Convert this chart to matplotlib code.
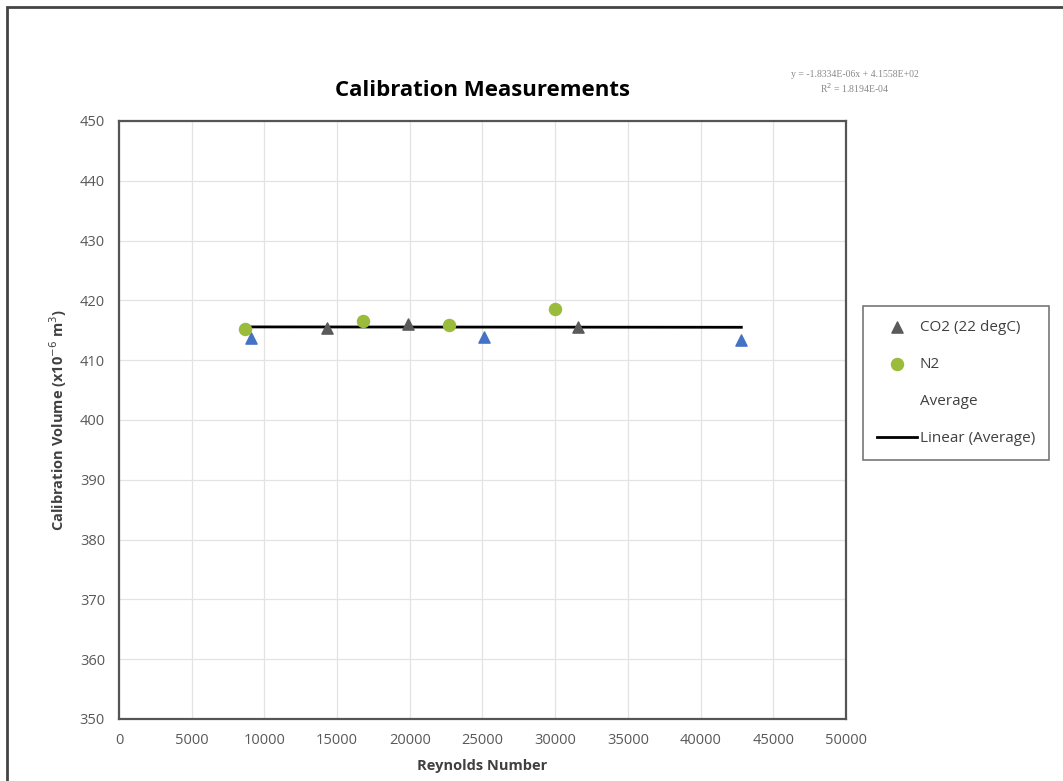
import numpy as np
import matplotlib.pyplot as plt
from matplotlib.patches import Rectangle

plt.rcParams['font.family'] = ['Open Sans', 'DejaVu Sans']

# CO2 (22 degC) points shown in the legend (grey triangles)
co2_x = [14300, 19900, 31600]
co2_y = [415.4, 416.1, 415.6]

# other CO2 runs (blue triangles, not in legend)
co2b_x = [9100, 25100, 42800]
co2b_y = [413.7, 413.8, 413.4]

# N2 points (green circles)
n2_x = [8700, 16800, 22700, 30000]
n2_y = [415.2, 416.5, 415.8, 418.5]

# Average series and its linear trendline
avg_x = [8700, 42800]
trend_slope = -1.8334e-06
trend_icept = 415.58

fig = plt.figure(figsize=(10.63, 7.81), dpi=100)
ax = fig.add_axes([0.1119, 0.0794, 0.684, 0.7657])

ax.set_xlim(0, 50000)
ax.set_ylim(350, 450)
ax.set_xticks(np.arange(0, 50001, 5000))
ax.set_yticks(np.arange(350, 451, 10))
ax.grid(True, color='#e3e3e3', linewidth=0.9)
ax.set_axisbelow(True)
for s in ax.spines.values():
    s.set_color('#555555')
    s.set_linewidth(1.6)
ax.tick_params(length=0, labelsize=10.5, colors='#595959', pad=10)

xs = np.array(avg_x, dtype=float)
ax.plot(xs, trend_slope * xs + trend_icept, color='black', lw=2, zorder=2)

ax.scatter(co2b_x, co2b_y, marker='^', s=65, color='#4472c4', zorder=3)
ax.scatter(co2_x, co2_y, marker='^', s=65, color='#5a5a5a', zorder=3,
           label='CO2 (22 degC)')
ax.scatter(n2_x, n2_y, marker='o', s=75, color='#9bbb3b', zorder=3, label='N2')
ax.plot([], [], linestyle='none', label='Average')
ax.plot([], [], color='black', lw=2, label='Linear (Average)')

ax.set_title('Calibration Measurements', fontsize=16, fontweight='bold', pad=18)
ax.set_xlabel('Reynolds Number', fontsize=10.5, fontweight='bold',
              color='#404040', labelpad=8)
ax.set_ylabel('Calibration Volume (x10$^{-6}$ m$^3$)', fontsize=10.5,
              fontweight='bold', color='#404040', labelpad=8)

leg = ax.legend(loc='center left', bbox_to_anchor=(1.0234, 0.562),
                borderaxespad=0, fontsize=11, frameon=True, fancybox=False,
                edgecolor='#555555', handlelength=2.6, labelspacing=1.45,
                borderpad=0.9, handletextpad=0.2)
leg.get_frame().set_linewidth(1.2)
for t in leg.get_texts():
    t.set_color('#404040')

fig.text(0.804, 0.904, 'y = -1.8334E-06x + 4.1558E+02', fontsize=7,
         family='Liberation Serif', color='#888888', ha='center', va='center')
fig.text(0.804, 0.887, 'R$^2$ = 1.8194E-04', fontsize=7,
         family='Liberation Serif', color='#888888', ha='center', va='center')

fig.patches.append(Rectangle((7 / 1063, -0.05), 1.2, 1 - 7 / 781 + 0.05,
                             transform=fig.transFigure, fill=False,
                             edgecolor='#444444', linewidth=2))

fig.savefig('out.png', dpi=100)
